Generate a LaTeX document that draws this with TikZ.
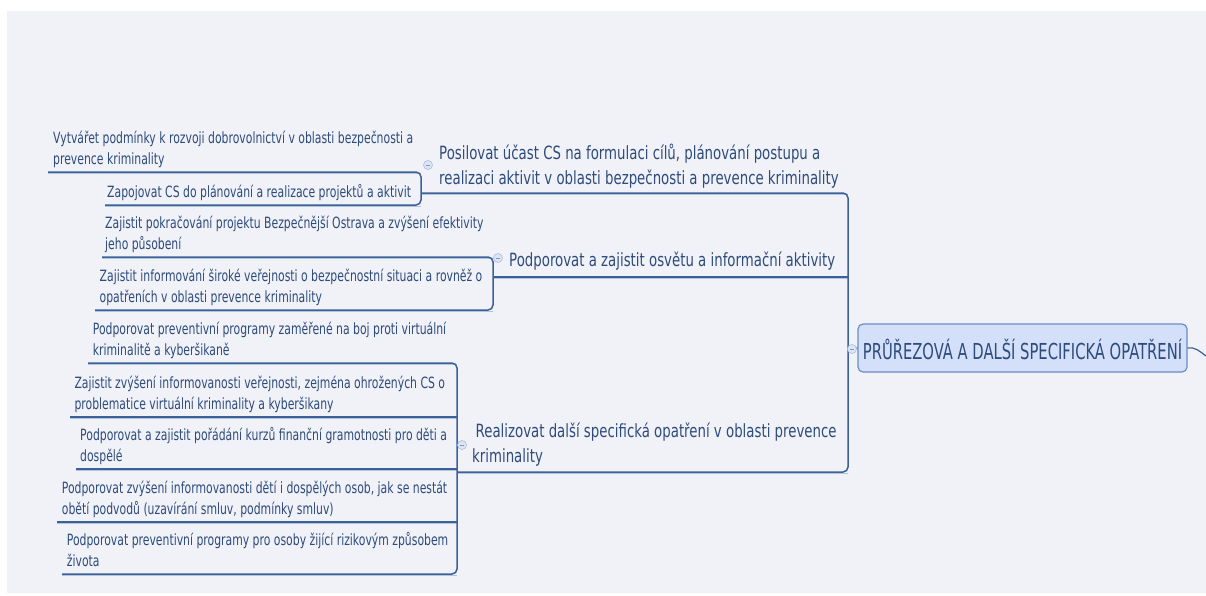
\documentclass[tikz,border=0pt]{standalone}
\usepackage{fontspec}
\setmainfont{DejaVu Sans}
\newfontfamily\leaffont{DejaVu Sans}[FakeStretch=0.70]
\newfontfamily\subfont{DejaVu Sans}[FakeStretch=0.73]
\newfontfamily\cenfont{DejaVu Sans}[FakeStretch=0.67]
\definecolor{bgc}{HTML}{F1F2F8}
\definecolor{linec}{HTML}{3B6198}
\definecolor{shadc}{HTML}{B4C3DC}
\definecolor{txtc}{HTML}{2D4B7B}
\definecolor{cenfill}{HTML}{D4E0FA}
\definecolor{cenborder}{HTML}{6A8CC2}
\definecolor{iconfill}{HTML}{DCE5F6}
\definecolor{iconline}{HTML}{A8BCDD}
\tikzset{
  leaf/.style={anchor=base west, inner sep=0pt, align=left, text=txtc,
    font=\leaffont\fontsize{15.5}{20.5}\selectfont},
  subt/.style={anchor=base west, inner sep=0pt, align=left, text=txtc,
    font=\subfont\fontsize{18.25}{25}\selectfont},
  cent/.style={draw=cenborder, fill=cenfill, line width=1.2pt, rounded corners=5pt,
    minimum width=329pt, minimum height=48pt, inner sep=0pt, text=txtc,
    text height=23pt, text depth=0pt, font=\cenfont\fontsize{22}{26}\selectfont},
  conn/.style={draw=linec, line width=1.5pt, rounded corners=5pt},
  shad/.style={draw=shadc, line width=1.2pt, rounded corners=5pt},
  icon/.style={circle, draw=iconline, fill=iconfill, minimum size=9pt, inner sep=0pt, line width=0.6pt},
  iconminus/.style={draw=iconline!80!black, line width=0.6pt},
}
\begin{document}
\begin{tikzpicture}[x=1pt,y=-1pt]
\useasboundingbox (0,0) rectangle (1206,595);
\fill[bgc] (7,11) rectangle (1206,593);

% junction coordinates
\coordinate (a1) at (48,172);   \coordinate (a2) at (421,172);
\coordinate (a3) at (421,205);  \coordinate (a4) at (105,205);
\coordinate (j1) at (421,193);  \coordinate (m1) at (848,193);
\coordinate (m2) at (848,472);  \coordinate (j3) at (457,472);
\coordinate (j2) at (493,277);  \coordinate (m3) at (848,277);
\coordinate (mc) at (848,349);
\coordinate (b1) at (102,257);  \coordinate (b2) at (493,257);
\coordinate (b3) at (493,310);  \coordinate (b4) at (95,310);
\coordinate (c1) at (88,363);   \coordinate (c2) at (457,363);
\coordinate (c3) at (457,574);  \coordinate (c4) at (62,574);
\coordinate (d1) at (70,417);   \coordinate (d2) at (457,417);
\coordinate (e1) at (76,469);   \coordinate (e2) at (457,469);
\coordinate (f1) at (57,522);   \coordinate (f2) at (457,522);
\coordinate (out) at (1206,356);

% shadows
\draw[shad] ([yshift=-1.6pt]a1) -- ([yshift=-1.6pt]a2);
\draw[shad] ([yshift=-1.6pt]a4) -- ([yshift=-1.6pt]a3);
\draw[shad] ([yshift=-1.6pt]j1) -- ([yshift=-1.6pt]m1);
\draw[shad] ([yshift=-1.6pt]j2) -- ([yshift=-1.6pt]m3);
\draw[shad] ([yshift=-1.6pt]j3) -- ([yshift=-1.6pt]m2);
\draw[shad] ([yshift=-1.6pt]b1) -- ([yshift=-1.6pt]b2);
\draw[shad] ([yshift=-1.6pt]b4) -- ([yshift=-1.6pt]b3);
\draw[shad] ([yshift=-1.6pt]c1) -- ([yshift=-1.6pt]c2);
\draw[shad] ([yshift=-1.6pt]d1) -- ([yshift=-1.6pt]d2);
\draw[shad] ([yshift=-1.6pt]e1) -- ([yshift=-1.6pt]e2);
\draw[shad] ([yshift=-1.6pt]f1) -- ([yshift=-1.6pt]f2);
\draw[shad] ([yshift=-1.6pt]c4) -- ([yshift=-1.6pt]c3);

% connectors
\draw[conn] (a1) -- (a2) -- (a3) -- (a4);
\draw[conn] (j1) -- (m1) -- (m2) -- (j3);
\draw[conn] (j2) -- (m3);
\draw[conn] (b1) -- (b2) -- (b3) -- (b4);
\draw[conn] (c1) -- (c2) -- (c3) -- (c4);
\draw[conn] (d1) -- (d2);
\draw[conn] (e1) -- (e2);
\draw[conn] (f1) -- (f2);

% central topic
\node[cent] (c) at (1022.5,348) {PRŮŘEZOVÁ A DALŠÍ SPECIFICKÁ OPATŘENÍ};
\draw[conn, line width=1.2pt] (mc) -- (c.west);
\draw[linec, line width=1.2pt] (c.east) .. controls (1196,347) and (1199,351) .. (out);

% collapse icons
\node[icon] (i0) at (852,349) {};
\node[icon] (i1) at (428,165) {};
\node[icon] (i2) at (498,258) {};
\node[icon] (i3) at (462,445) {};
\foreach \i in {i0,i1,i2,i3}{\draw[iconminus] ([xshift=-2.3pt]\i.center) -- ([xshift=2.3pt]\i.center);}

% main topics (base anchor = baseline of the last line)
\node[subt] (s1) at (439,184.3) {Posilovat účast CS na formulaci cílů, plánování postupu a\\realizaci aktivit v oblasti bezpečnosti a prevence kriminality};
\node[subt] (s2) at (509,266.5) {Podporovat a zajistit osvětu a informační aktivity};
\node[subt] (s3) at (472,462) {\hspace{3.5pt}Realizovat další specifická opatření v oblasti prevence\\kriminality};

% leaves
\node[leaf] (l1) at (53,164) {Vytvářet podmínky k rozvoji dobrovolnictví v oblasti bezpečnosti a\\prevence kriminality};
\node[leaf] (l2) at (107,197) {Zapojovat CS do plánování a realizace projektů a aktivit};
\node[leaf] (l3) at (105,249) {Zajistit pokračování projektu Bezpečnější Ostrava a zvýšení efektivity\\jeho působení};
\node[leaf] (l4) at (99.5,302) {Zajistit informování široké veřejnosti o bezpečnostní situaci a rovněž o\\opatřeních v oblasti prevence kriminality};
\node[leaf] (l5) at (92.7,355) {Podporovat preventivní programy zaměřené na boj proti virtuální\\kriminalitě a kyberšikaně};
\node[leaf] (l6) at (74.3,409) {Zajistit zvýšení informovanosti veřejnosti, zejména ohrožených CS o\\problematice virtuální kriminality a kyberšikany};
\node[leaf] (l7) at (80,461) {Podporovat a zajistit pořádání kurzů finanční gramotnosti pro děti a\\dospělé};
\node[leaf] (l8) at (61.7,514) {Podporovat zvýšení informovanosti dětí i dospělých osob, jak se nestát\\obětí podvodů (uzavírání smluv, podmínky smluv)};
\node[leaf] (l9) at (66.7,566) {Podporovat preventivní programy pro osoby žijící rizikovým způsobem\\života};
\end{tikzpicture}
\end{document}
